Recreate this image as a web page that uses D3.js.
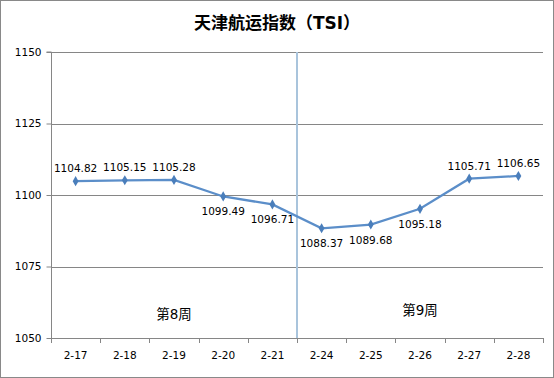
<!DOCTYPE html>
<html>
<head>
<meta charset="utf-8">
<script src="https://cdn.jsdelivr.net/npm/d3@7"></script>
<style>
  body { margin: 0; background: #fff; }
  text { font-family: "DejaVu Sans", "Noto Sans CJK SC", sans-serif; fill: #000; }
</style>
</head>
<body>
<div class="chart"></div>
<script>
const dates = ["2-17", "2-18", "2-19", "2-20", "2-21", "2-24", "2-25", "2-26", "2-27", "2-28"];
const tsi = [1104.82, 1105.15, 1105.28, 1099.49, 1096.71, 1088.37, 1089.68, 1095.18, 1105.71, 1106.65];
const labelSide = ["top", "top", "top", "bottom", "bottom", "bottom", "bottom", "bottom", "top", "top"];
const yTicks = [1050, 1075, 1100, 1125, 1150];
const weeks = [
    {name: "第8周", from: "2-17", to: "2-21", dy: 314},
    {name: "第9周", from: "2-24", to: "2-28", dy: 310}
];

function main(){
    const W = 554, H = 378;
    const margin = {top: 52, right: 11, bottom: 40, left: 51};
    const width = W - margin.left - margin.right;
    const height = H - margin.top - margin.bottom;

    const root = d3.select(".chart").append("svg")
        .attr("width", W)
        .attr("height", H);

    // outer frame
    root.append("rect")
        .attr("x", 0.5).attr("y", 0.5)
        .attr("width", W - 1).attr("height", H - 1)
        .attr("fill", "#fff")
        .attr("stroke", "#898989");

    root.append("text")
        .attr("x", W / 2)
        .attr("y", 29)
        .attr("text-anchor", "middle")
        .attr("font-size", 17)
        .attr("font-family", "Noto Sans CJK SC")
        .attr("font-weight", "bold")
        .text("天津航运指数（TSI）");

    const svg = root.append("g")
        .attr("transform", `translate(${margin.left},${margin.top})`);

    const x = d3.scaleBand().domain(dates).range([0, width]);
    const y = d3.scaleLinear().domain([1050, 1150]).range([height, 0]);

    // gridlines
    svg.append("g")
        .selectAll("line")
        .data(yTicks.slice(1))
        .join("line")
        .attr("x1", 0).attr("x2", width)
        .attr("y1", d => Math.round(y(d)) + 0.5)
        .attr("y2", d => Math.round(y(d)) + 0.5)
        .attr("stroke", "#868686");

    // axes
    const yAxis = d3.axisLeft(y).tickValues(yTicks).tickFormat(d3.format("d")).tickSize(5).tickPadding(5);
    svg.append("g")
        .attr("class", "axis y-axis")
        .attr("transform", "translate(0.5,0)")
        .call(yAxis)
        .call(g => g.selectAll("line,path").attr("stroke", "#868686"))
        .call(g => g.select(".domain").attr("d", `M-5,${y(1150)}H0V${height + 0.5}`))
        .call(g => g.selectAll("text").attr("font-size", 10.5));

    const xAxis = d3.axisBottom(x).tickSize(0).tickPadding(13);
    svg.append("g")
        .attr("class", "axis x-axis")
        .attr("transform", `translate(0,${Math.round(height) + 0.5})`)
        .call(xAxis)
        .call(g => g.select(".domain").attr("stroke", "#868686").attr("d", `M0,0H${width}`))
        .call(g => g.selectAll("text").attr("font-size", 10.5));

    // category boundary ticks
    const bounds = dates.map(d => x(d)).concat([width]);
    svg.append("g")
        .selectAll("line")
        .data(bounds)
        .join("line")
        .attr("x1", d => Math.round(d) + 0.5).attr("x2", d => Math.round(d) + 0.5)
        .attr("y1", height).attr("y2", height + 5)
        .attr("stroke", "#868686");

    // week divider
    const divX = Math.round(x("2-24"));
    svg.append("line")
        .attr("x1", divX).attr("x2", divX)
        .attr("y1", 0).attr("y2", height)
        .attr("stroke", "#a9c4dc")
        .attr("stroke-width", 2);

    // week labels
    svg.selectAll(".week")
        .data(weeks)
        .join("text")
        .attr("class", "week")
        .attr("x", d => (x(d.from) + x(d.to) + x.bandwidth()) / 2)
        .attr("y", d => d.dy - margin.top + 5)
        .attr("text-anchor", "middle")
        .attr("font-size", 13.5)
        .attr("font-family", "Noto Sans CJK SC")
        .text(d => d.name);

    // line
    const cx = d => x(d) + x.bandwidth() / 2;
    const line = d3.line()
        .x((d, i) => cx(dates[i]))
        .y(d => y(d));
    svg.append("path")
        .datum(tsi)
        .attr("fill", "none")
        .attr("stroke", "#5b8ec9")
        .attr("stroke-width", 2.25)
        .attr("d", line);

    svg.selectAll(".pt")
        .data(tsi)
        .join("path")
        .attr("class", "pt")
        .attr("transform", (d, i) => `translate(${cx(dates[i])},${y(d)})`)
        .attr("d", d3.symbol(d3.symbolDiamond, 30))
        .attr("fill", "#4a7ebb");

    svg.selectAll(".lbl")
        .data(tsi)
        .join("text")
        .attr("class", "lbl")
        .attr("x", (d, i) => cx(dates[i]))
        .attr("y", (d, i) => y(d) + (labelSide[i] === "top" ? -9 : 19))
        .attr("text-anchor", "middle")
        .attr("font-size", 10.5)
        .text(d => d.toFixed(2));
}

main();
</script>
</body>
</html>
